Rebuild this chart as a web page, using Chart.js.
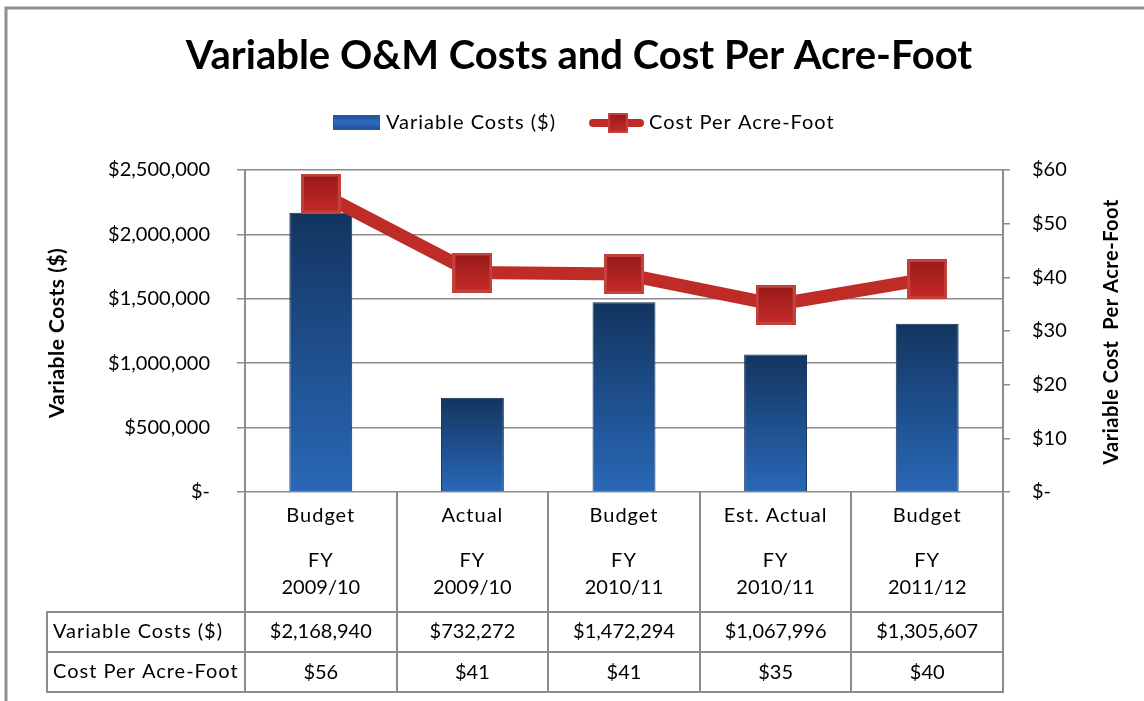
<!DOCTYPE html>
<html>
<head>
<meta charset="utf-8">
<script src="https://cdn.jsdelivr.net/npm/chart.js@4.4.1/dist/chart.umd.min.js"></script>
<style>
  html, body { margin: 0; padding: 0; background: #fff; }
  #wrap { width: 1144px; height: 701px; position: relative; }
</style>
</head>
<body>
<div id="wrap"><canvas id="chart" width="1144" height="701"></canvas></div>
<script>
// data
const categories = ['Budget', 'Actual', 'Budget', 'Est. Actual', 'Budget'];
const fiscalYears = ['2009/10', '2009/10', '2010/11', '2010/11', '2011/12'];
const variableCosts = [2168940, 732272, 1472294, 1067996, 1305607];
const costPerAcreFoot = [55.6, 40.9, 40.6, 34.9, 39.7];
const costTicks = [0, 500000, 1000000, 1500000, 2000000, 2500000];
const acreFootTicks = [0, 10, 20, 30, 40, 50, 60];

const FONT = 'Lato, "Open Sans", sans-serif';
const GRID = '#8c8c8c';

const money = v => v === 0 ? '$-' : '$' + Math.round(v).toLocaleString('en-US');

// square marker like the Excel one
function makeMarker(size, rim) {
    const c = document.createElement('canvas');
    c.width = c.height = size;
    const g = c.getContext('2d');
    g.fillStyle = '#c4403a';
    g.fillRect(0, 0, size, size);
    const grad = g.createLinearGradient(0, 0, 0, size);
    grad.addColorStop(0, '#961a19');
    grad.addColorStop(1, '#c62b27');
    g.fillStyle = grad;
    g.fillRect(rim, rim, size - rim * 2, size - rim * 2);
    return c;
}
const bigMarker = makeMarker(40, 3);
const smallMarker = makeMarker(20, 2);

function barGradient(c) {
    const chart = c.chart;
    if (!chart.chartArea || c.raw == null) return '#1f4f8f';
    const top = chart.scales.y.getPixelForValue(c.raw);
    const bottom = chart.scales.y.getPixelForValue(0);
    const g = chart.ctx.createLinearGradient(0, top, 0, bottom);
    g.addColorStop(0, '#12355f');
    g.addColorStop(1, '#2a68b8');
    return g;
}

// legend, axis titles, category labels and data table
const extrasPlugin = {
    id: 'extras',
    afterDraw(chart) {
        const ctx = chart.ctx;
        const area = chart.chartArea;
        const n = categories.length;
        const colW = (area.right - area.left) / n;
        ctx.save();

        // outer frame
        ctx.strokeStyle = '#8f8f8f';
        ctx.lineWidth = 3;
        ctx.beginPath();
        ctx.moveTo(6, 701); ctx.lineTo(6, 8); ctx.lineTo(1144, 8);
        ctx.stroke();

        // legend
        let lg = ctx.createLinearGradient(0, 115, 0, 130);
        lg.addColorStop(0, '#1d4f93'); lg.addColorStop(0.5, '#2f6cc0'); lg.addColorStop(1, '#1d4f93');
        ctx.fillStyle = lg;
        ctx.fillRect(333, 115, 47, 15);
        ctx.strokeStyle = '#2a5a9a'; ctx.lineWidth = 1;
        ctx.strokeRect(333.5, 115.5, 46, 14);
        ctx.strokeStyle = '#bf2c28'; ctx.lineWidth = 8; ctx.lineCap = 'round';
        ctx.beginPath(); ctx.moveTo(593, 123); ctx.lineTo(640, 123); ctx.stroke();
        ctx.drawImage(smallMarker, 608, 113);
        ctx.fillStyle = '#000';
        ctx.font = '20px ' + FONT;
        ctx.letterSpacing = '1px';
        ctx.textAlign = 'left'; ctx.textBaseline = 'middle';
        ctx.fillText('Variable Costs ($)', 386, 123);
        ctx.fillText('Cost Per Acre-Foot', 649, 123);

        // axis titles
        ctx.font = 'bold 21px ' + FONT;
        ctx.letterSpacing = '0.5px';
        ctx.textAlign = 'center';
        ctx.save(); ctx.translate(57, 333); ctx.rotate(-Math.PI / 2);
        ctx.fillText('Variable Costs ($)', 0, 0); ctx.restore();
        ctx.font = 'bold 20px ' + FONT;
        ctx.save(); ctx.translate(1112, 332); ctx.rotate(-Math.PI / 2);
        ctx.fillText('Variable Cost  Per Acre-Foot', 0, 0); ctx.restore();

        // table grid
        const rowTop = 612, rowMid = 652, rowBot = 692, labelX = 47;
        ctx.strokeStyle = GRID; ctx.lineWidth = 2; ctx.lineCap = 'butt';
        ctx.beginPath();
        for (let i = 0; i <= n; i++) {
            const x = Math.round(area.left + i * colW);
            ctx.moveTo(x, area.bottom); ctx.lineTo(x, rowBot);
        }
        ctx.moveTo(labelX, rowTop); ctx.lineTo(labelX, rowBot);
        [rowTop, rowMid, rowBot].forEach(y => { ctx.moveTo(labelX - 1, y); ctx.lineTo(area.right + 1, y); });
        ctx.stroke();

        // category labels + table values
        ctx.fillStyle = '#000';
        ctx.font = '20px ' + FONT;
        ctx.textAlign = 'center';
        for (let i = 0; i < n; i++) {
            const cx = chart.scales.x.getPixelForValue(i);
            ctx.letterSpacing = '1px';
            ctx.fillText(categories[i], cx, 516);
            ctx.fillText('FY', cx, 561);
            ctx.letterSpacing = '0px';
            ctx.fillText(fiscalYears[i], cx, 588);
            ctx.fillText(money(variableCosts[i]), cx, 632);
            ctx.fillText(money(costPerAcreFoot[i]), cx, 673);
        }
        ctx.textAlign = 'left';
        ctx.letterSpacing = '1px';
        ctx.fillText('Variable Costs ($)', 53, 632);
        ctx.fillText('Cost Per Acre-Foot', 53, 672);
        ctx.restore();
    }
};

new Chart(document.getElementById('chart'), {
    type: 'bar',
    data: {
        labels: categories,
        datasets: [
            {
                type: 'line',
                label: 'Cost Per Acre-Foot',
                data: costPerAcreFoot,
                yAxisID: 'y1',
                order: 0,
                borderColor: '#bf2c28',
                borderWidth: 13,
                tension: 0,
                pointStyle: bigMarker,
                pointRadius: 20
            },
            {
                type: 'bar',
                label: 'Variable Costs ($)',
                data: variableCosts,
                yAxisID: 'y',
                order: 1,
                backgroundColor: barGradient,
                borderColor: '#0f2d55',
                borderWidth: 1,
                categoryPercentage: 1,
                barPercentage: 0.415
            }
        ]
    },
    options: {
        responsive: false,
        animation: false,
        // left padding shifts the title centre to match the original
        layout: { padding: { left: 14 } },
        plugins: {
            legend: { display: false },
            tooltip: { enabled: false },
            title: {
                display: true,
                text: 'Variable O&M Costs and Cost Per Acre-Foot',
                color: '#000',
                font: { family: FONT, size: 40, weight: 'bold', lineHeight: 1.2 },
                padding: { top: 32, bottom: 90 }
            }
        },
        scales: {
            x: {
                grid: { display: false },
                border: { display: false },
                ticks: { display: false },
                afterFit(s) { s.height = 209; }
            },
            y: {
                position: 'left',
                min: 0,
                max: 2500000,
                afterBuildTicks(s) { s.ticks = costTicks.map(v => ({ value: v })); },
                ticks: { callback: v => money(v), color: '#000', font: { family: FONT, size: 20 }, padding: 27 },
                grid: { color: GRID, lineWidth: 1.5, tickLength: 8 },
                border: { color: GRID, width: 2 },
                afterFit(s) { s.width = 231; }
            },
            y1: {
                position: 'right',
                min: 0,
                max: 60,
                afterBuildTicks(s) { s.ticks = acreFootTicks.map(v => ({ value: v })); },
                ticks: { callback: v => money(v), color: '#000', font: { family: FONT, size: 20 }, padding: 22 },
                grid: { drawOnChartArea: false, color: GRID, lineWidth: 1.5, tickLength: 7 },
                border: { color: GRID, width: 2 },
                afterFit(s) { s.width = 141; }
            }
        }
    },
    plugins: [extrasPlugin]
});
</script>
</body>
</html>
